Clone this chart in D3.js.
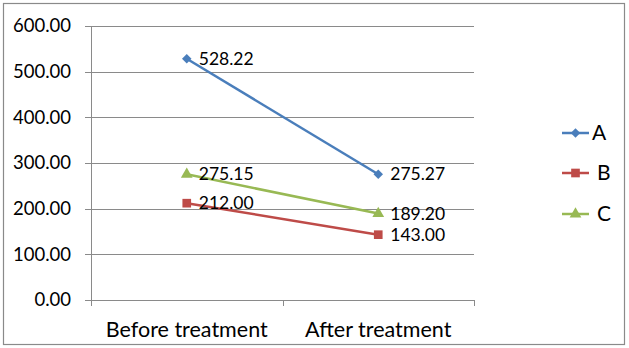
<!DOCTYPE html>
<html><head><meta charset="utf-8">
<script src="https://cdn.jsdelivr.net/npm/d3@7"></script>
<style>body{margin:0;background:#fff}svg{display:block}</style>
</head><body>
<script>
const categories = ["Before treatment", "After treatment"];
const seriesNames = ["A", "B", "C"];
const valuesA = [528.22, 275.27];
const valuesB = [212.00, 143.00];
const valuesC = [275.15, 189.20];
const yTicks = [0, 100, 200, 300, 400, 500, 600];
const colors = ["#4A7EBB", "#BE4B48", "#98B954"];
const symbols = [d3.symbolSquare, d3.symbolSquare, d3.symbolTriangle];
const symSizes = [45, 75, 60];
const symRot = [45, 0, 0];
const series = [valuesA, valuesB, valuesC];

const W = 629, H = 348;
const font = "Lato, 'Open Sans', sans-serif";
const svg = d3.select("body").append("svg").attr("width", W).attr("height", H);
svg.append("rect").attr("x", 3.5).attr("y", 3.5).attr("width", 621).attr("height", 341)
  .attr("fill", "#fff").attr("stroke", "#8a8a8a").attr("stroke-width", 1.2);

const pL = 91, pR = 474, pT = 26, pB = 300;
const x = d3.scaleBand().domain(categories).range([pL, pR]);
const y = d3.scaleLinear().domain([0, 600]).range([pB, pT]);
const cx = c => x(c) + x.bandwidth() / 2;

// gridlines
svg.append("g").selectAll("line").data(yTicks).join("line")
  .attr("x1", pL - 6).attr("x2", pR)
  .attr("y1", d => Math.round(y(d)) + 0.5).attr("y2", d => Math.round(y(d)) + 0.5)
  .attr("stroke", "#8a8a8a").attr("stroke-width", 1);
// y axis line
svg.append("line").attr("x1", pL + 0.5).attr("x2", pL + 0.5).attr("y1", pT).attr("y2", pB + 6)
  .attr("stroke", "#8a8a8a");
// category ticks
const catEdges = [pL, pL + x.bandwidth(), pR];
svg.append("g").selectAll("line").data(catEdges).join("line")
  .attr("x1", d => Math.round(d) + 0.5).attr("x2", d => Math.round(d) + 0.5)
  .attr("y1", pB).attr("y2", pB + 6).attr("stroke", "#8a8a8a");

// y labels
svg.append("g").selectAll("text").data(yTicks).join("text")
  .attr("x", 71).attr("y", d => y(d)).attr("dy", "0.35em").attr("text-anchor", "end")
  .attr("font-family", font).attr("font-size", 18.5).attr("fill", "#000")
  .text(d => d.toFixed(2));
// x labels
svg.append("g").selectAll("text").data(categories).join("text")
  .attr("x", d => cx(d)).attr("y", 337).attr("text-anchor", "middle")
  .attr("font-family", font).attr("font-size", 21.5).attr("fill", "#000")
  .text(d => d);

const line = d3.line().x((d, i) => cx(categories[i])).y(d => y(d));
series.forEach((vals, s) => {
  const g = svg.append("g");
  g.append("path").attr("d", line(vals)).attr("fill", "none")
    .attr("stroke", colors[s]).attr("stroke-width", 2.5);
  g.selectAll("path.m").data(vals).join("path").attr("class", "m")
    .attr("transform", (d, i) => `translate(${cx(categories[i])},${y(d)}) rotate(${symRot[s]})`)
    .attr("d", d3.symbol().type(symbols[s]).size(symSizes[s]))
    .attr("fill", colors[s]);
  g.selectAll("text").data(vals).join("text")
    .attr("x", (d, i) => cx(categories[i]) + 12).attr("y", d => y(d)).attr("dy", "0.35em")
    .attr("font-family", font).attr("font-size", 17.5).attr("fill", "#000")
    .text(d => d.toFixed(2));
});

// legend
const legY = [133, 173, 214];
seriesNames.forEach((n, s) => {
  const g = svg.append("g");
  g.append("line").attr("x1", 562).attr("x2", 589).attr("y1", legY[s]).attr("y2", legY[s])
    .attr("stroke", colors[s]).attr("stroke-width", 2.5);
  g.append("path").attr("transform", `translate(575.5,${legY[s]}) rotate(${symRot[s]})`)
    .attr("d", d3.symbol().type(symbols[s]).size(symSizes[s])).attr("fill", colors[s]);
  g.append("text").attr("x", s === 0 ? 592 : 597).attr("y", legY[s]).attr("dy", "0.35em")
    .attr("font-family", font).attr("font-size", 21).attr("fill", "#000").text(n);
});
</script>
</body></html>
